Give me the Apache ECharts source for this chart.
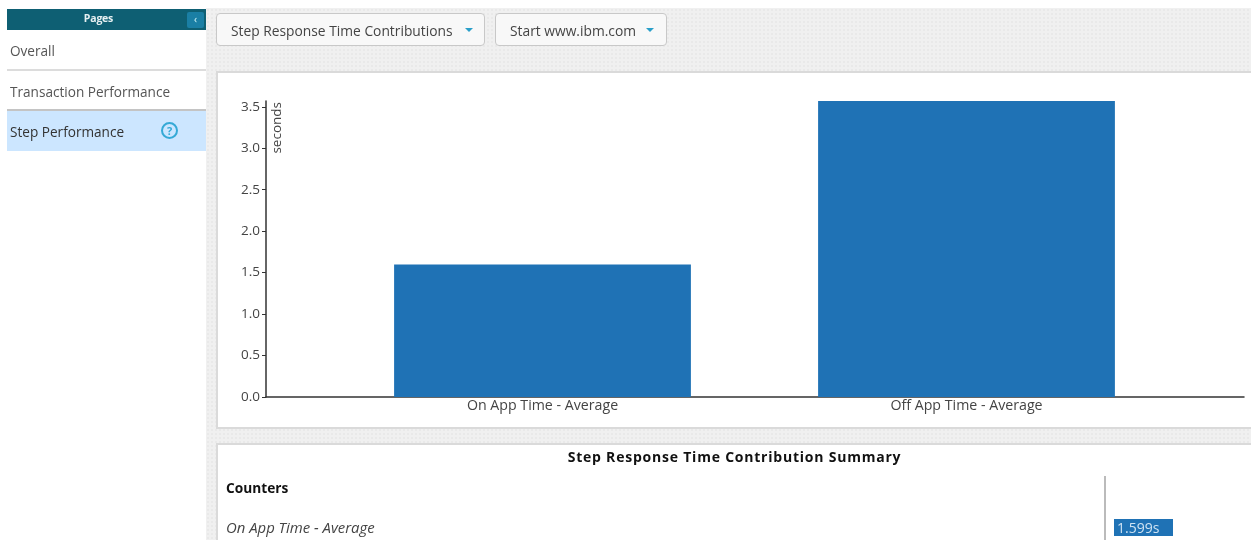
<!DOCTYPE html>
<html><head><meta charset="utf-8">
<script src="https://cdn.jsdelivr.net/npm/echarts@6/dist/echarts.min.js"></script>
<style>
html,body{margin:0;padding:0;width:1251px;height:540px;overflow:hidden;background:#fff;font-family:"Open Sans","Noto Sans",sans-serif;}
#page{position:absolute;left:0;top:0;width:1251px;height:540px;filter:blur(.45px);}
.a{position:absolute;white-space:nowrap;box-sizing:border-box;}
#bg{left:206px;top:8px;width:1045px;height:532px;background-color:#f0f0f0;background-image:radial-gradient(#e9e9e9 1px,transparent 1.2px);background-size:4px 4px;}
#head{left:7px;top:9px;width:199px;height:21px;background:#0e5f73;color:#e6f0f2;font-size:10.5px;font-weight:700;text-align:center;line-height:19px;padding-right:16px;letter-spacing:-.2px;}
#collapse{left:187px;top:12px;width:17px;height:16px;background:#1a7fa5;border-radius:2px;color:#dff;font-size:10px;line-height:15px;text-align:center;}
.row{left:7px;width:199px;height:40px;line-height:42px;padding-left:3px;font-size:13.6px;color:#555;}
.btn{top:13px;height:33px;background:#f8f8f8;border:1.5px solid #c8c8c8;border-radius:4px;font-size:13.8px;color:#444;line-height:33px;padding-left:14px;}
.caret{position:absolute;top:14px;width:0;height:0;border-left:4px solid transparent;border-right:4px solid transparent;border-top:4px solid #2a9fc9;}
.panel{background:#fff;border:2px solid #dadada;border-right:none;}
#q{left:161px;top:122px;width:17px;height:17px;border:2px solid #35a9d6;border-radius:50%;color:#35a9d6;font-size:11px;font-weight:700;text-align:center;line-height:13px;}
#chart{position:absolute;left:0;top:0;width:1251px;height:540px;}
</style></head><body>
<div id="page">
<div class="a" id="bg"></div>
<div class="a" id="head">Pages</div><div class="a" id="collapse">&#8249;</div>
<div class="a row" style="top:30px;border-bottom:2px solid #dcdcdc;height:41px">Overall</div>
<div class="a row" style="top:71px;border-bottom:2px solid #c4c4c4;">Transaction Performance</div>
<div class="a row" style="top:111px;background:#cce6ff;color:#333;">Step Performance</div>
<div class="a" id="q">?</div>
<div class="a" style="left:7px;top:151px;width:199px;height:389px;background:#fff"></div>
<div class="a btn" style="left:216px;width:269px;">Step Response Time Contributions<span class="caret" style="left:248px"></span></div>
<div class="a btn" style="left:495px;width:172px;">Start www.ibm.com<span class="caret" style="left:150px"></span></div>
<div class="a panel" style="left:216px;top:71px;width:1035px;height:358px;"></div>
<div class="a panel" style="left:216px;top:443px;width:1035px;height:97px;border-bottom:none;"></div>
<div class="a" style="left:218px;width:1033px;top:447px;text-align:center;font-size:14px;font-weight:700;color:#111;letter-spacing:.78px;">Step Response Time Contribution Summary</div>
<div class="a" style="left:226px;top:478px;font-size:13.7px;font-weight:700;color:#111;">Counters</div>
<div class="a" id="rowName" style="left:226px;top:517px;font-size:14.9px;font-style:italic;color:#444;"></div>
<div class="a" style="left:1104px;top:476px;width:2px;height:64px;background:#bbb;"></div>
<div class="a" id="cell" style="left:1114px;top:519px;width:59px;height:17px;background:#1f72b5;color:#cfe3f3;font-size:14px;line-height:17px;padding-left:3px;"></div>
<div id="chart"></div>
</div>
<script>
const categories = ["On App Time - Average", "Off App Time - Average"];
const seconds = [1.599, 3.57];
const tickValues = [0, 0.5, 1, 1.5, 2, 2.5, 3, 3.5];
const axisName = "seconds";
const summaryValue = "1.599s";

document.getElementById('rowName').textContent = categories[0];
document.getElementById('cell').textContent = summaryValue;

const textColor = '#444';
const fontFamily = '"Open Sans","Noto Sans",sans-serif';
const chart = echarts.init(document.getElementById('chart'), null, {renderer:'canvas'});
chart.setOption({
  animation:false,
  backgroundColor:'transparent',
  grid:[
    {left:330.5, width:848, top:101, height:296, containLabel:false},
    {left:266, width:978, top:101, height:296, containLabel:false}
  ],
  xAxis:[
    {type:'category', gridIndex:0, data:categories,
      axisLine:{show:false}, axisTick:{show:false},
      axisLabel:{color:textColor, fontSize:14.2, fontFamily, margin:2, interval:0}},
    {type:'category', gridIndex:1, data:[],
      axisLine:{show:true, lineStyle:{color:'#333', width:1.5}}, axisTick:{show:false}, axisLabel:{show:false}}
  ],
  yAxis:[
    {type:'value', gridIndex:0, min:0, max:seconds[1], offset:64.5,
      name:axisName, nameLocation:'end', nameRotate:90, nameGap:-1,
      nameTextStyle:{color:textColor, fontSize:13.5, fontFamily, align:'right', verticalAlign:'top', padding:[4,0,0,0]},
      axisLine:{show:true, onZero:false, lineStyle:{color:'#333', width:1.5}},
      axisTick:{show:true, length:4, customValues:tickValues, lineStyle:{color:'#333'}},
      axisLabel:{color:textColor, fontSize:13.5, fontFamily, margin:6, padding:[2,0,0,0], customValues:tickValues,
        formatter:v=>v.toFixed(1)},
      splitLine:{show:false}},
    {type:'value', gridIndex:1, show:false, min:0, max:1}
  ],
  series:[{type:'bar', xAxisIndex:0, yAxisIndex:0, data:seconds, barWidth:'70%',
    itemStyle:{color:'#1f72b5'}, silent:true}]
});
</script>
</body></html>
